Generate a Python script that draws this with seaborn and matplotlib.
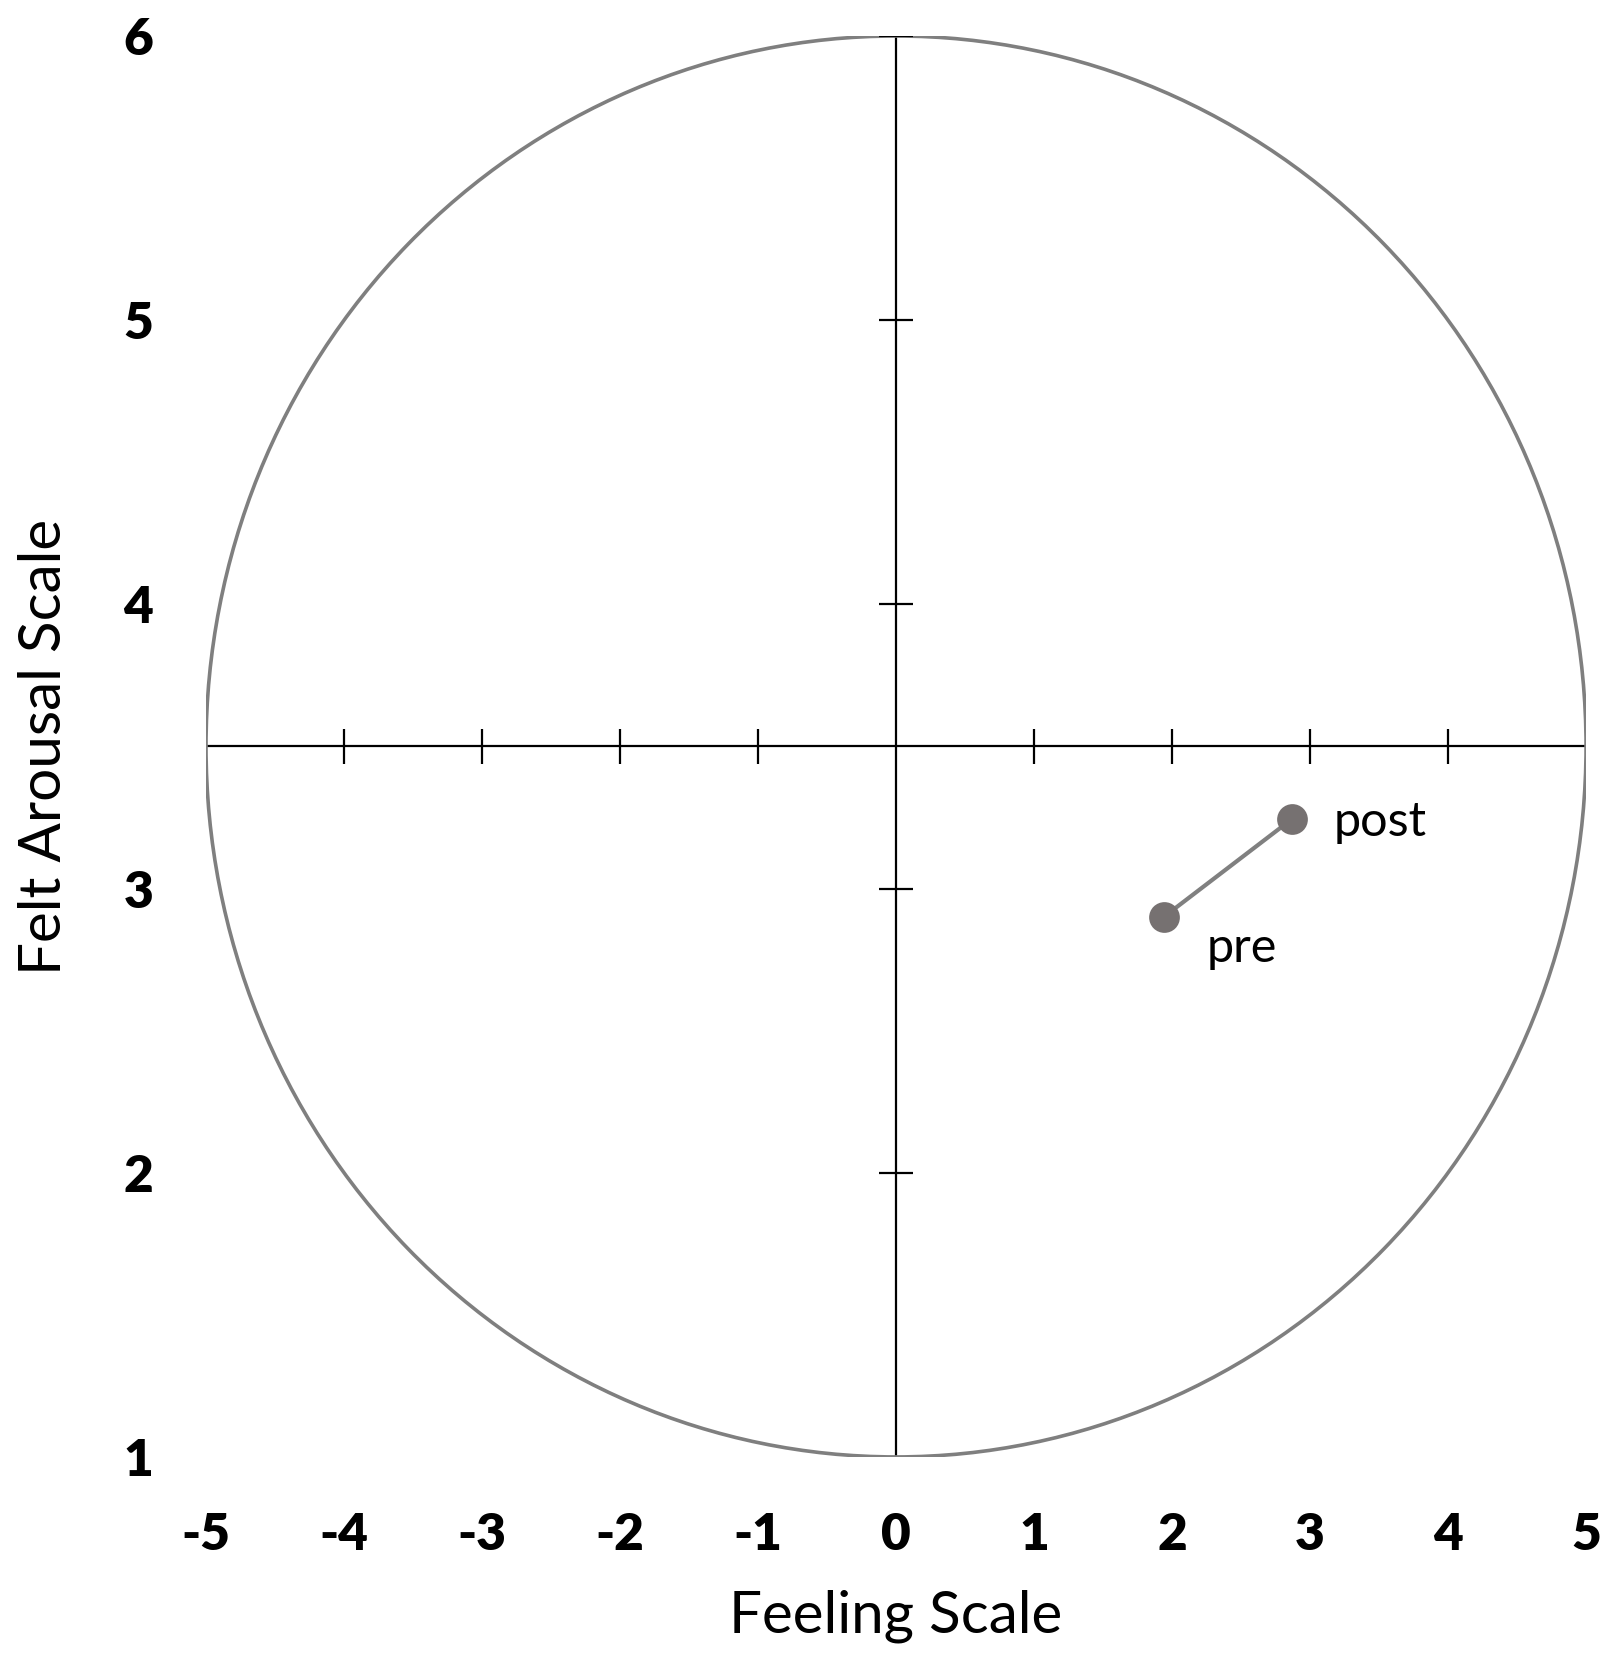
import matplotlib
matplotlib.use("Agg")
import matplotlib.pyplot as plt
from matplotlib.patches import Ellipse
import seaborn as sns
import pandas as pd

# Data
phases = ["pre", "post"]
feeling = [1.94, 2.87]
arousal = [2.90, 3.245]

x_ticks = [-5, -4, -3, -2, -1, 0, 1, 2, 3, 4, 5]
y_ticks = [1, 2, 3, 4, 5, 6]

sns.set_theme(style="white")
plt.rcParams['font.family'] = ['Lato', 'DejaVu Sans']
plt.rcParams['text.color'] = 'black'
plt.rcParams['axes.labelcolor'] = 'black'
plt.rcParams['xtick.color'] = 'black'
plt.rcParams['ytick.color'] = 'black'

df = pd.DataFrame({"phase": phases, "feeling": feeling, "arousal": arousal})

fig = plt.figure(figsize=(16.12, 16.59), dpi=100)
ax = fig.add_axes([0.1278, 0.1218, 0.9839 - 0.1278, 0.9783 - 0.1218])
ax.set_xlim(-5, 5)
ax.set_ylim(1, 6)
for s in ax.spines.values():
    s.set_visible(False)

# circumplex circle
ax.add_patch(Ellipse((0, 3.5), 10, 5, fill=False, edgecolor="#7f7f7f", lw=2.6, zorder=2))

# cross axes with tick marks
ax.plot([-5, 5], [3.5, 3.5], color="black", lw=1.6, zorder=1, solid_capstyle="butt")
ax.plot([0, 0], [1, 6], color="black", lw=1.6, zorder=1, solid_capstyle="butt")
xt_inner = [t for t in x_ticks if t not in (-5, 0, 5)]
ax.vlines(xt_inner, 3.5 - 0.06, 3.5 + 0.06, color="black", lw=1.6)
yt_inner = [t for t in y_ticks if t not in (1,)]
ax.hlines(yt_inner, -0.12, 0.12, color="black", lw=1.6)

# pre -> post trajectory
sns.lineplot(data=df, x="feeling", y="arousal", ax=ax, color="#808080", lw=3, sort=False, zorder=3)
sns.scatterplot(data=df, x="feeling", y="arousal", ax=ax, color="#767171", s=420,
                edgecolor="#767171", zorder=4)
ax.annotate("post", (feeling[1], arousal[1]), xytext=(30, -2), textcoords="offset points",
            ha="left", va="center", fontsize=35, color="black")
ax.annotate("pre", (feeling[0], arousal[0]), xytext=(31, -22), textcoords="offset points",
            ha="left", va="center", fontsize=35, color="black")

ax.set_xticks(x_ticks)
ax.set_yticks(y_ticks)
ax.set_xticklabels([str(t) for t in x_ticks], fontsize=37, fontweight="heavy")
ax.set_yticklabels([str(t) for t in y_ticks], fontsize=37, fontweight="heavy")
ax.tick_params(axis="both", length=0)
ax.tick_params(axis="x", pad=40)
ax.tick_params(axis="y", pad=38)
ax.set_xlabel("Feeling Scale", fontsize=42, labelpad=22)
ax.set_ylabel("Felt Arousal Scale", fontsize=42, labelpad=38)

fig.savefig("out.png", dpi=100)
